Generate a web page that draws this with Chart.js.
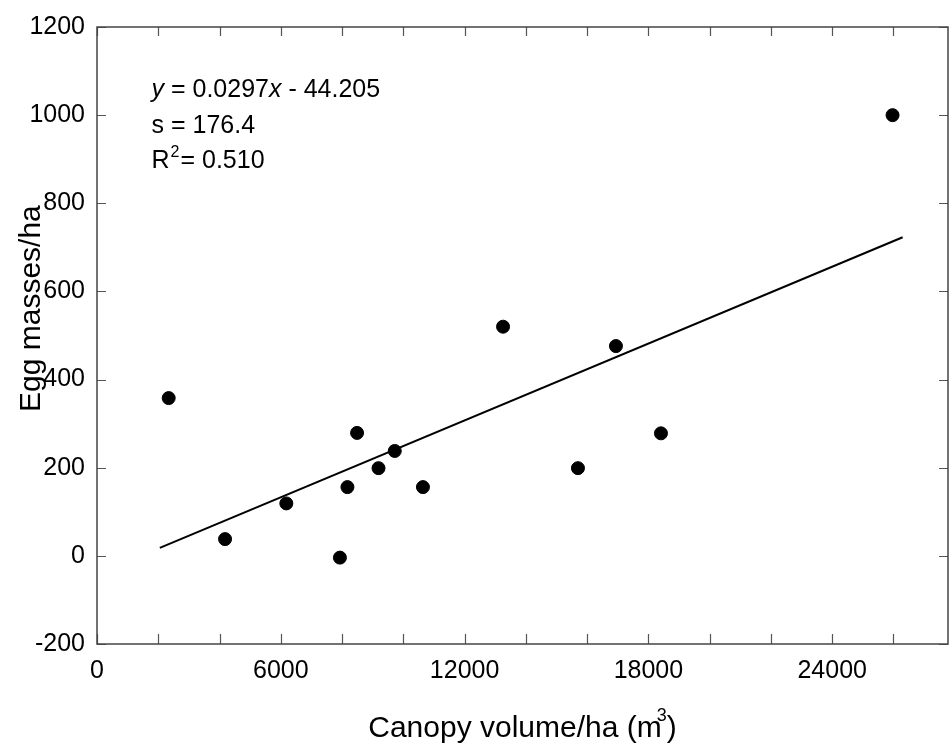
<!DOCTYPE html>
<html>
<head>
<meta charset="utf-8">
<script src="https://cdn.jsdelivr.net/npm/chart.js@4.4.1/dist/chart.umd.min.js"></script>
<style>
  html, body { margin: 0; padding: 0; background: #fff; }
  #wrap { width: 949px; height: 746px; }
</style>
</head>
<body>
<div id="wrap"><canvas id="eggChart" width="949" height="746"></canvas></div>
<script>
// Données
const canopyVolume = [2340, 4180, 6180, 7930, 8175, 8490, 9190, 9720, 10640, 13255, 15700, 16940, 18410, 25970];
const eggMasses = [358, 38, 119, -4, 156, 279, 199, 238, 156, 520, 199, 476, 278, 1000];

// Droite de régression (extrémités)
const fitX = [2050, 26300];
const fitY = [18, 723];

// Graduations
const xTicks = [0, 2000, 4000, 6000, 8000, 10000, 12000, 14000, 16000, 18000, 20000, 22000, 24000, 26000];
const xLabels = [0, 6000, 12000, 18000, 24000];
const yTicks = [-200, 0, 200, 400, 600, 800, 1000, 1200];

const FONT = '"Liberation Sans", Arial, sans-serif';

// Cadre, graduations internes, titres d'axes et équation
const framePlugin = {
    id: 'frame',
    afterDraw(chart) {
        const ctx = chart.ctx;
        const a = chart.chartArea;
        const xs = chart.scales.x;
        const ys = chart.scales.y;
        ctx.save();

        // graduations
        ctx.strokeStyle = '#555';
        ctx.lineWidth = 1.2;
        ctx.beginPath();
        xs.ticks.forEach(t => {
            const px = Math.round(xs.getPixelForValue(t.value)) + 0.5;
            ctx.moveTo(px, a.bottom); ctx.lineTo(px, a.bottom - 10);
            ctx.moveTo(px, a.top); ctx.lineTo(px, a.top + 9);
        });
        ys.ticks.forEach(t => {
            const py = Math.round(ys.getPixelForValue(t.value)) + 0.5;
            ctx.moveTo(a.left, py); ctx.lineTo(a.left + 9, py);
            ctx.moveTo(a.right, py); ctx.lineTo(a.right - 9, py);
        });
        ctx.stroke();

        // cadre
        ctx.strokeStyle = '#444';
        ctx.lineWidth = 1.5;
        ctx.strokeRect(a.left, a.top, a.right - a.left, a.bottom - a.top);

        ctx.fillStyle = '#000';
        ctx.textBaseline = 'alphabetic';
        ctx.textAlign = 'left';

        // équation
        let x = 151.5;
        ctx.font = 'italic 25px ' + FONT;
        ctx.fillText('y', x, 97);
        x += ctx.measureText('y').width;
        ctx.font = '25px ' + FONT;
        ctx.fillText(' = 0.0297', x, 97);
        x += ctx.measureText(' = 0.0297').width;
        ctx.font = 'italic 25px ' + FONT;
        ctx.fillText('x', x, 97);
        x += ctx.measureText('x').width;
        ctx.font = '25px ' + FONT;
        ctx.fillText(' - 44.205', x, 97);

        ctx.fillText('s = 176.4', 151.5, 133);

        ctx.fillText('R', 151.5, 168);
        x = 151.5 + ctx.measureText('R').width;
        ctx.font = '16px ' + FONT;
        ctx.fillText('2', x + 1, 157);
        x += ctx.measureText('2').width + 2;
        ctx.font = '25px ' + FONT;
        ctx.fillText('= 0.510', x, 168);

        // titre de l'axe x
        ctx.font = '30px ' + FONT;
        const xt1 = 'Canopy volume/ha (m';
        const w1 = ctx.measureText(xt1).width;
        ctx.font = '18px ' + FONT;
        const w3 = ctx.measureText('3').width;
        ctx.font = '30px ' + FONT;
        const w2 = ctx.measureText(')').width;
        const total = w1 + w3 + w2 - 5;
        let tx = (a.left + a.right) / 2 - total / 2;
        ctx.fillText(xt1, tx, 737);
        tx += w1 - 5;
        ctx.font = '18px ' + FONT;
        ctx.fillText('3', tx, 721);
        tx += w3;
        ctx.font = '30px ' + FONT;
        ctx.fillText(')', tx, 737);

        // titre de l'axe y
        ctx.font = '30px ' + FONT;
        const yt = 'Egg masses/ha';
        const wy = ctx.measureText(yt).width;
        ctx.translate(32, 412 - wy / 2);
        ctx.rotate(-Math.PI / 2);
        ctx.textAlign = 'center';
        ctx.textBaseline = 'middle';
        ctx.fillText(yt, 0, 0);

        ctx.restore();
    }
};

const ctx = document.getElementById('eggChart').getContext('2d');
new Chart(ctx, {
    type: 'scatter',
    data: {
        datasets: [{
            data: canopyVolume.map((v, i) => ({ x: v, y: eggMasses[i] })),
            backgroundColor: '#000',
            borderColor: '#000',
            pointRadius: 6.5,
            pointHoverRadius: 6.5,
            showLine: false
        }, {
            data: fitX.map((v, i) => ({ x: v, y: fitY[i] })),
            borderColor: '#000',
            borderWidth: 2,
            pointRadius: 0,
            showLine: true,
            fill: false
        }]
    },
    options: {
        responsive: false,
        animation: false,
        layout: { autoPadding: false, padding: { top: 27, right: 1, left: 0, bottom: 0 } },
        plugins: {
            legend: { display: false },
            tooltip: { enabled: false }
        },
        scales: {
            x: {
                type: 'linear',
                min: 0,
                max: 27780,
                grid: { display: false, drawTicks: false },
                border: { display: false },
                ticks: {
                    autoSkip: false,
                    maxRotation: 0,
                    padding: 12,
                    color: '#000',
                    font: { family: FONT, size: 25 },
                    callback: v => (xLabels.includes(v) ? String(v) : '')
                },
                afterBuildTicks(scale) { scale.ticks = xTicks.map(v => ({ value: v })); },
                afterFit(scale) {
                    scale.height = 102;
                    scale.paddingRight = 0;
                    scale.paddingLeft = 0;
                }
            },
            y: {
                min: -200,
                max: 1200,
                grid: { display: false, drawTicks: false },
                border: { display: false },
                ticks: {
                    padding: 12,
                    color: '#000',
                    font: { family: FONT, size: 25 },
                    callback: v => String(v)
                },
                afterBuildTicks(scale) { scale.ticks = yTicks.map(v => ({ value: v })); },
                afterFit(scale) { scale.width = 97; }
            }
        }
    },
    plugins: [framePlugin]
});
</script>
</body>
</html>
